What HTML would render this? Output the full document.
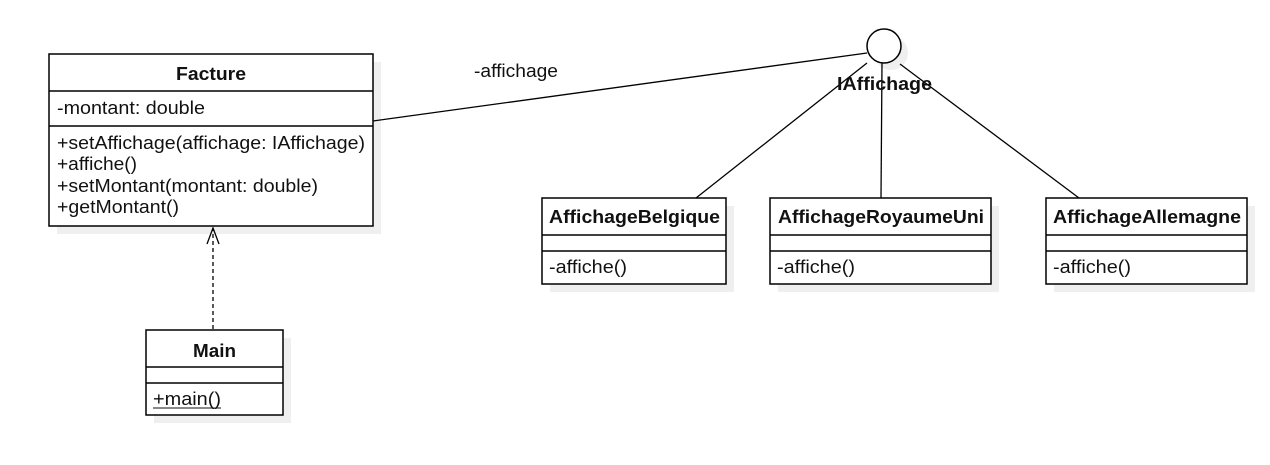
<!DOCTYPE html>
<html><head><meta charset="utf-8"><style>
html,body{margin:0;padding:0;background:#fff;}
svg text{font-family:"Liberation Sans",sans-serif;font-size:18px;fill:#111;}
.b{font-weight:bold;}
</style></head><body>
<svg width="1270" height="460" viewBox="0 0 1270 460" xmlns="http://www.w3.org/2000/svg">
<g fill="#efefef">
<rect x="57" y="62" width="324" height="172"/>
<circle cx="891" cy="53" r="17"/>
<rect x="550" y="206" width="184" height="86"/>
<rect x="778" y="206" width="221" height="86"/>
<rect x="1054" y="206" width="201" height="86"/>
<rect x="154" y="338" width="137" height="85"/>
</g>
<g stroke="#000" stroke-width="1.3" fill="none">
<line x1="373" y1="121" x2="867" y2="53"/>
<line x1="867" y1="63" x2="696" y2="198"/>
<line x1="882" y1="63" x2="881" y2="198"/>
<line x1="900" y1="64" x2="1079" y2="198"/>
<line x1="213" y1="329" x2="213" y2="230" stroke-dasharray="4,3"/>
<polyline points="207,244 213,228 219,244"/>
</g>
<g stroke="#000" stroke-width="1.5" fill="#fff">
<circle cx="884" cy="46" r="17"/>
<rect x="49" y="54" width="324" height="172"/>
<line x1="49" y1="91" x2="373" y2="91"/>
<line x1="49" y1="126" x2="373" y2="126"/>
<rect x="542" y="198" width="184" height="86"/>
<line x1="542" y1="235" x2="726" y2="235"/>
<line x1="542" y1="251" x2="726" y2="251"/>
<rect x="770" y="198" width="221" height="86"/>
<line x1="770" y1="235" x2="991" y2="235"/>
<line x1="770" y1="251" x2="991" y2="251"/>
<rect x="1046" y="198" width="201" height="86"/>
<line x1="1046" y1="235" x2="1247" y2="235"/>
<line x1="1046" y1="251" x2="1247" y2="251"/>
<rect x="146" y="330" width="137" height="85"/>
<line x1="146" y1="367" x2="283" y2="367"/>
<line x1="146" y1="383" x2="283" y2="383"/>
</g>
<text class="b" x="176" y="80" textLength="70" lengthAdjust="spacingAndGlyphs">Facture</text>
<text x="57" y="114" textLength="148" lengthAdjust="spacingAndGlyphs">-montant: double</text>
<text x="57" y="149" textLength="308" lengthAdjust="spacingAndGlyphs">+setAffichage(affichage: IAffichage)</text>
<text x="57" y="170" textLength="80" lengthAdjust="spacingAndGlyphs">+affiche()</text>
<text x="57" y="192" textLength="261" lengthAdjust="spacingAndGlyphs">+setMontant(montant: double)</text>
<text x="57" y="213" textLength="122" lengthAdjust="spacingAndGlyphs">+getMontant()</text>
<text x="474" y="77" textLength="84" lengthAdjust="spacingAndGlyphs">-affichage</text>
<text class="b" x="837" y="90" textLength="95" lengthAdjust="spacingAndGlyphs">IAffichage</text>
<text class="b" x="549" y="223" textLength="171" lengthAdjust="spacingAndGlyphs">AffichageBelgique</text>
<text x="549" y="273" textLength="78" lengthAdjust="spacingAndGlyphs">-affiche()</text>
<text class="b" x="778" y="223" textLength="206" lengthAdjust="spacingAndGlyphs">AffichageRoyaumeUni</text>
<text x="777" y="273" textLength="78" lengthAdjust="spacingAndGlyphs">-affiche()</text>
<text class="b" x="1053" y="223" textLength="188" lengthAdjust="spacingAndGlyphs">AffichageAllemagne</text>
<text x="1053" y="273" textLength="78" lengthAdjust="spacingAndGlyphs">-affiche()</text>
<text class="b" x="193" y="357" textLength="43" lengthAdjust="spacingAndGlyphs">Main</text>
<text x="153" y="405" textLength="68" lengthAdjust="spacingAndGlyphs">+main()</text>
<line x1="153" y1="408" x2="221" y2="408" stroke="#111" stroke-width="1"/>
</svg>
</body></html>
